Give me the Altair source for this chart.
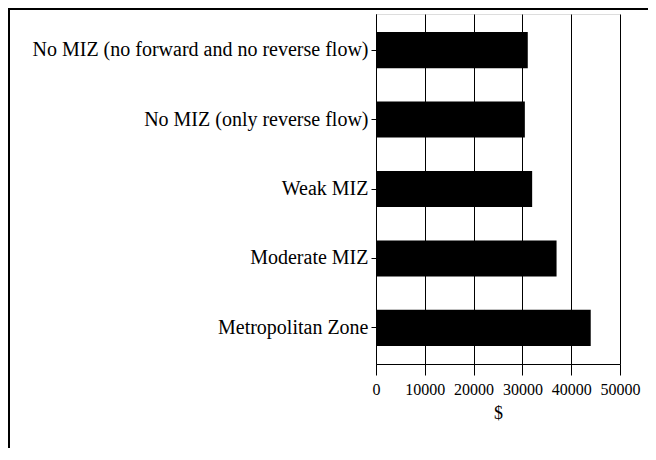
import altair as alt
import pandas as pd

categories = [
    "No MIZ (no forward and no reverse flow)",
    "No MIZ (only reverse flow)",
    "Weak MIZ",
    "Moderate MIZ",
    "Metropolitan Zone",
]
values = [31100, 30500, 32000, 37000, 44000]
x_ticks = [0, 10000, 20000, 30000, 40000, 50000]

df = pd.DataFrame({"zone": categories, "income": values})

FONT = "Liberation Serif, Times New Roman, serif"

bars = alt.Chart(df).mark_bar(color="black").encode(
    x=alt.X(
        "income:Q",
        scale=alt.Scale(domain=[0, 50000], nice=False),
        axis=alt.Axis(
            values=x_ticks,
            format="d",
            title="$",
            grid=True,
            gridColor="black",
            gridWidth=1,
            gridOpacity=1,
            domainColor="black",
            tickColor="black",
            tickSize=11,
            labelPadding=6,
            labelOverlap=False,
            labelBound=False,
            labelFlush=False,
            labelFont=FONT,
            labelFontSize=16,
            labelColor="black",
            titleFont=FONT,
            titleFontSize=18,
            titleFontWeight="normal",
            titleColor="black",
            titlePadding=7,
        ),
    ),
    y=alt.Y(
        "zone:N",
        sort=categories,
        scale=alt.Scale(paddingInner=0.48, paddingOuter=0.26),
        axis=alt.Axis(
            title=None,
            grid=False,
            domainColor="black",
            tickColor="black",
            tickSize=5,
            labelPadding=3,
            labelFont=FONT,
            labelFontSize=20,
            labelColor="black",
            labelLimit=0,
        ),
    ),
)

border = alt.Chart(alt.Data(values=[{"a": 1}])).mark_rect(
    fill=None, fillOpacity=0, stroke="black", strokeWidth=2
).encode(
    x=alt.value(-367),
    x2=alt.value(1000),
    y=alt.value(-5),
    y2=alt.value(1000),
)

chart = alt.layer(bars, border).properties(
    width=244,
    height=350,
    autosize=alt.AutoSizeParams(type="none"),
    padding={"left": 368, "top": 6, "right": 28, "bottom": 84},
).configure_view(stroke=None).configure(background="white")

chart.save("out.html", embed_options={"renderer": "svg", "actions": False})
